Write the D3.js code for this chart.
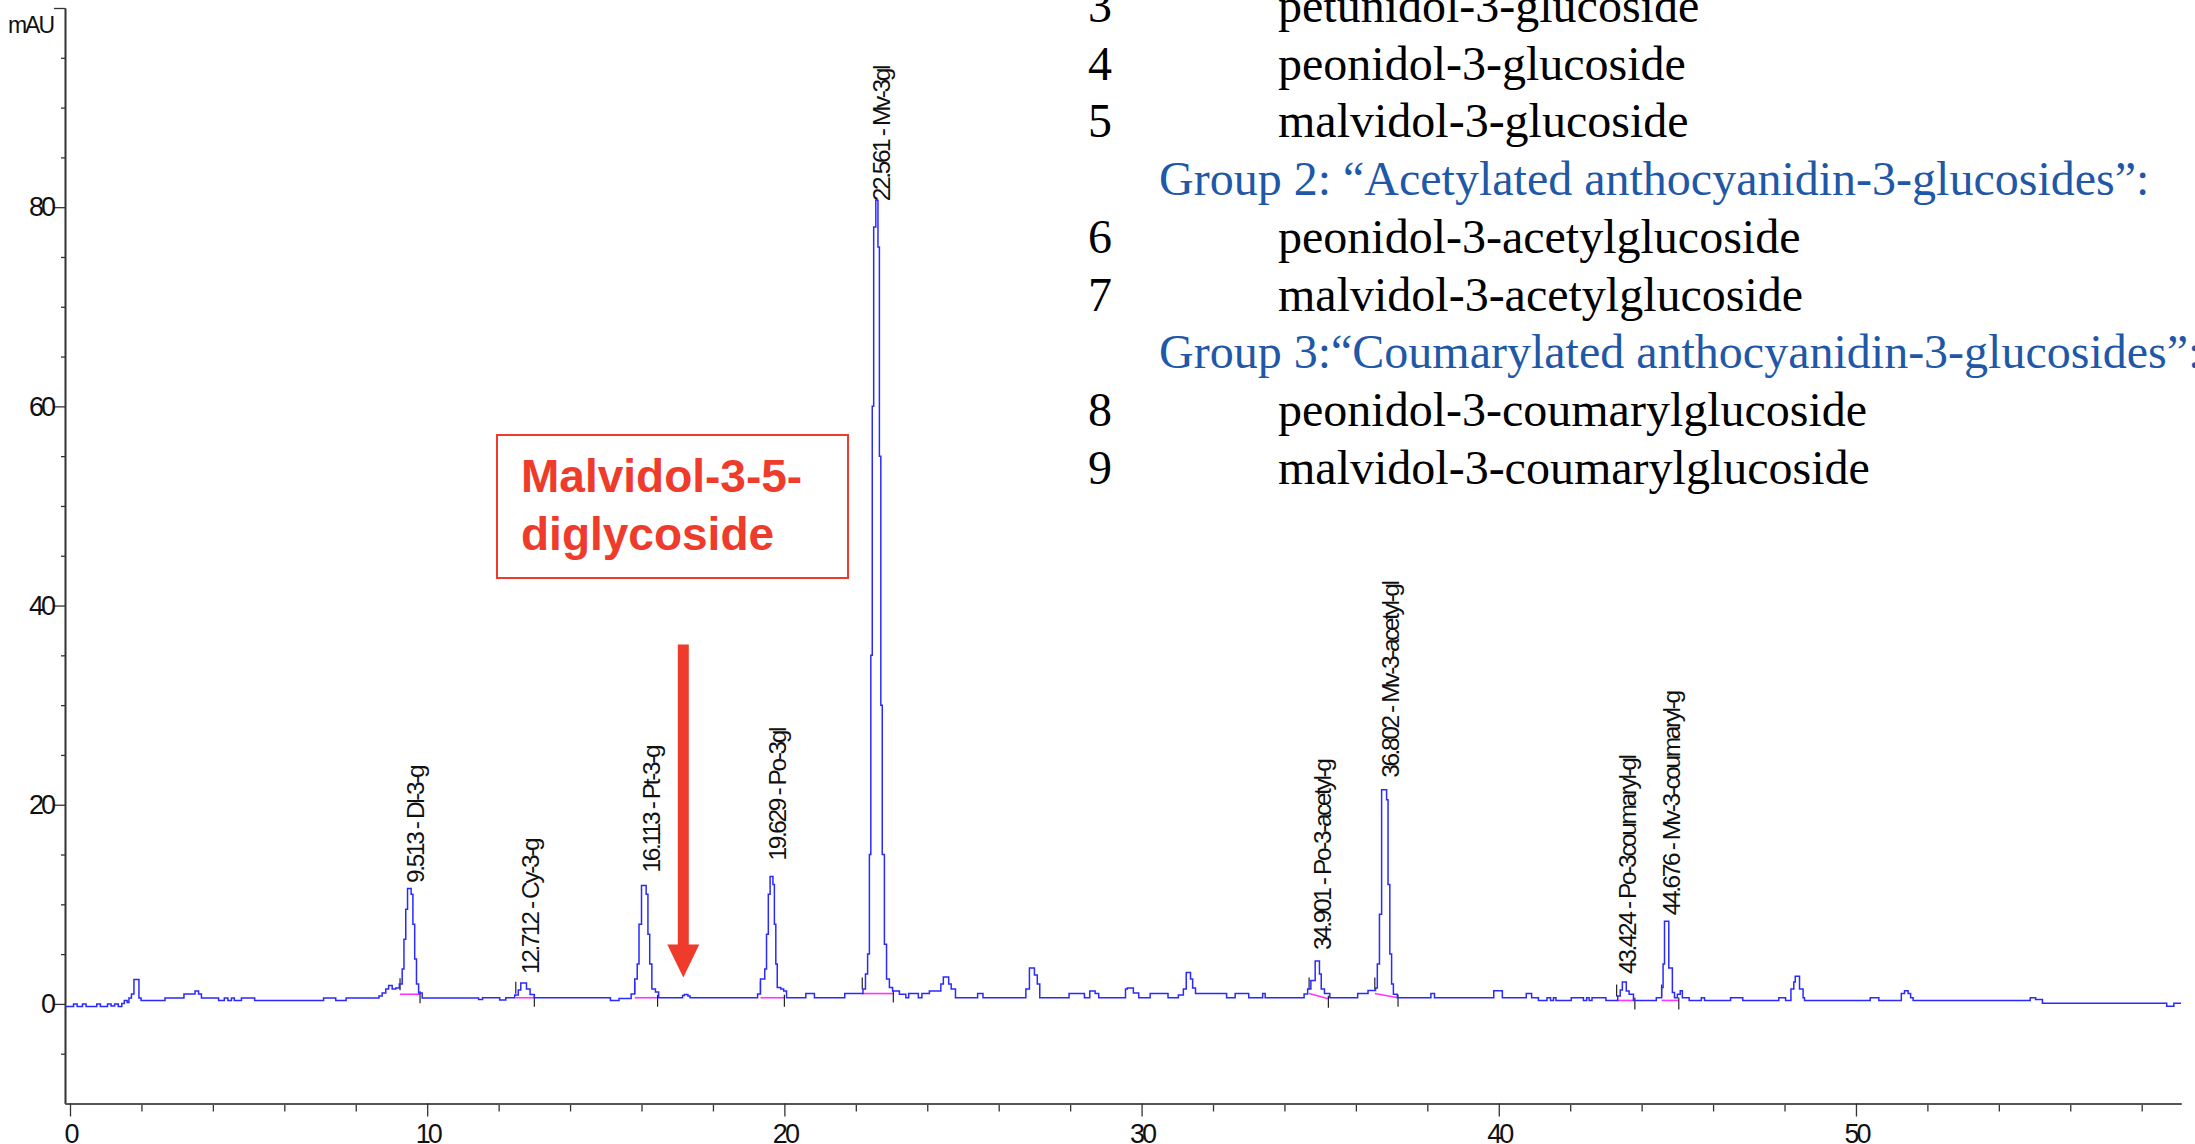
<!DOCTYPE html>
<html><head><meta charset="utf-8">
<script src="https://cdn.jsdelivr.net/npm/d3@7"></script>
<style>body{margin:0;background:#fff}</style>
</head><body><svg id="c" width="2195" height="1144"></svg>
<script>
// chromatogram trace: [retention time (min), absorbance (mAU)], sample-and-hold steps
const trace = [
[-0.14,-0.25],[0.1,0.0],[0.2,-0.25],[0.35,0.0],[0.45,-0.25],[0.75,0.0],[0.85,-0.25],[1.05,0.0],[1.15,-0.2],[1.25,0.0],[1.35,-0.25],[1.45,0.05],[1.52,0.35],[1.6,0.15],[1.65,0.6],[1.72,1.0],[1.79,2.45],[1.93,0.6],[1.99,0.35],[2.66,0.6],[3.19,1.0],[3.5,1.3],[3.6,1.0],[3.68,0.6],[4.16,0.35],[4.32,0.6],[4.42,0.35],[4.52,0.6],[4.6,0.35],[4.8,0.6],[5.17,0.35],[7.1,0.6],[7.44,0.35],[7.73,0.6],[8.65,0.8],[8.74,1.1],[8.84,1.5],[8.92,1.85],[9.02,1.5],[9.12,1.6],[9.22,2.0],
[9.3,3.5],[9.35,6.5],[9.4,9.5],[9.45,11.6],[9.55,11.0],[9.6,8.0],[9.65,4.5],[9.7,2.0],[9.76,1.1],[9.86,0.6],
[11.44,0.45],[11.55,0.62],[12.03,0.4],[12.2,0.62],[12.45,0.9],[12.55,1.4],[12.62,2.1],[12.78,1.5],[12.88,0.95],[13.0,0.62],
[15.13,0.35],[15.37,0.55],[15.71,1.0],[15.81,2.5],[15.88,4.0],[15.93,8.0],[16.0,11.9],[16.13,11.0],[16.18,7.0],[16.23,4.0],[16.29,1.5],[16.39,1.2],[16.48,0.62],
[17.15,0.85],[17.2,0.95],[17.3,0.8],[17.36,0.62],
[19.25,1.0],[19.33,2.5],[19.45,3.5],[19.5,7.0],[19.55,11.0],[19.6,12.8],[19.68,12.0],[19.72,8.0],[19.76,4.0],[19.8,1.66],[19.9,1.5],[19.98,1.3],[20.06,0.62],[20.6,1.04],[20.84,0.62],[21.69,1.04],
[22.2,1.5],[22.27,3.0],[22.33,5.0],[22.38,15],[22.42,35],[22.46,60],[22.5,78],[22.56,80.7],[22.62,76],[22.66,55],[22.7,30],[22.74,15],[22.8,6],[22.86,2.5],[22.94,1.66],[23.03,1.3],[23.22,0.97],[23.4,0.62],[23.48,1.04],[23.75,0.62],[23.85,1.04],[24.06,1.3],[24.38,2.0],[24.45,2.7],[24.6,2.0],[24.67,1.5],[24.79,0.62],[25.41,1.04],[25.56,0.62],[26.76,1.5],[26.86,3.6],[27.0,2.9],[27.08,2.0],[27.15,0.62],[27.97,1.04],[28.4,0.62],[28.55,1.3],[28.7,1.04],[28.8,0.62],
[29.55,1.5],[29.6,1.6],[29.77,1.1],[29.92,0.62],[30.24,1.04],[30.74,0.62],[31.03,0.9],[31.17,1.5],[31.25,3.15],[31.37,2.5],[31.43,1.6],[31.51,1.04],[32.38,0.62],[32.62,1.04],[33.0,0.62],[33.39,1.04],[33.46,0.62],
[34.55,1.0],[34.65,1.5],[34.74,2.35],[34.86,4.3],[34.98,3.0],[35.03,1.5],[35.12,1.04],[35.27,0.62],
[36.05,1.04],[36.34,1.35],[36.55,1.6],[36.6,4.0],[36.66,9.0],[36.72,21.5],[36.86,20.5],[36.9,12],[36.95,5.0],[37.0,2.0],[37.05,0.97],[37.16,0.62],
[38.1,1.04],[38.2,0.62],[39.86,1.31],[40.1,0.62],[40.77,1.04],[40.92,0.62],[41.11,0.35],[41.35,0.62],[41.45,0.35],[41.53,0.62],[41.6,0.35],[42.03,0.62],[42.37,0.35],[42.46,0.62],[42.53,0.35],[42.61,0.62],[43.0,0.35],
[43.33,0.8],[43.4,1.4],[43.46,2.2],[43.57,1.3],[43.65,0.97],[43.77,0.35],
[44.41,0.62],[44.56,1.66],[44.6,4.0],[44.64,8.3],[44.76,3.6],[44.86,1.14],[44.92,0.62],[45.0,0.97],[45.08,1.31],[45.14,0.62],[45.33,0.35],[45.67,0.62],[45.76,0.35],[46.49,0.62],[46.83,0.35],[47.84,0.62],[48.03,0.35],[48.18,1.49],[48.26,2.2],[48.3,2.77],[48.42,1.5],[48.52,0.62],[48.56,0.35],[50.4,0.62],[50.64,0.35],[51.27,1.04],[51.36,1.31],[51.46,1.04],[51.53,0.62],[51.6,0.35],[54.88,0.62],[55.03,0.45],[55.22,0.07],[58.7,-0.24],[58.9,0.07],[59.1,0.07]
];

// identified peaks
const peakTimes  = [9.513, 12.712, 16.113, 19.629, 22.561, 34.901, 36.802, 43.424, 44.676];
const peakLabels = ["9.513 - Dl-3-g", "12.712 - Cy-3-g", "16.113 - Pt-3-g", "19.629 - Po-3gl", "22.561 - Mv-3gl",
                    "34.901 - Po-3-acetyl-g", "36.802 - Mv-3-acetyl-gl", "43.424 - Po-3coumaryl-gl", "44.676 - Mv-3-coumaryl-g"];
const labelBase  = [11.95, 2.8, 13.0, 14.2, 80.4, 5.2, 22.5, 2.8, 8.7];
// integration baselines
const intStart    = [9.24, 12.48, 15.81, 19.33, 22.18, 34.69, 36.53, 43.30, 44.56];
const intStartVal = [0.97, 0.62, 0.62, 0.62, 1.04, 1.04, 1.04, 0.35, 0.35];
const intEnd      = [9.80, 13.00, 16.45, 20.00, 23.05, 35.23, 37.18, 43.81, 45.04];
const intEndVal   = [0.97, 0.62, 0.62, 0.62, 1.04, 0.52, 0.62, 0.35, 0.35];

// axes ticks
const yMajorTicks = [0, 20, 40, 60, 80, 100];
const yLabelTicks = [0, 20, 40, 60, 80];
const yMinorTicks = [-5, 5, 10, 15, 25, 30, 35, 45, 50, 55, 65, 70, 75, 85, 90, 95];
const xMajorTicks = [0, 10, 20, 30, 40, 50];
const xMinorTicks = [2,4,6,8,12,14,16,18,22,24,26,28,32,34,36,38,42,44,46,48,52,54,56,58];

// annotation
const calloutLines = ["Malvidol-3-5-", "diglycoside"];
const arrowTime = 17.17, arrowTop = 36.1, arrowTip = 2.65;

// legend
const legendNums  = ["3", "4", "5", "", "6", "7", "", "8", "9"];
const legendNames = ["petunidol-3-glucoside", "peonidol-3-glucoside", "malvidol-3-glucoside",
  "Group 2: \u201cAcetylated anthocyanidin-3-glucosides\u201d:",
  "peonidol-3-acetylglucoside", "malvidol-3-acetylglucoside",
  "Group 3:\u201cCoumarylated anthocyanidin-3-glucosides\u201d:",
  "peonidol-3-coumarylglucoside", "malvidol-3-coumarylglucoside"];
const legendIsGroup = [false, false, false, true, false, false, true, false, false];

const svg = d3.select("#c");
svg.append("rect").attr("width", 2195).attr("height", 1144).attr("fill", "#fff");

const x = d3.scaleLinear().domain([-0.14, 59.1]).range([65, 2181]);
const y = d3.scaleLinear().domain([-10, 100]).range([1103.5, 8]);

const sans = "'Liberation Sans', Arial, sans-serif";
const serif = "'Liberation Serif', 'Times New Roman', serif";

// legend (behind chart)
const lg = svg.append("g");
const rowY = i => 22 + i * 57.7;
legendNames.forEach((nm, i) => {
  if (legendIsGroup[i]) {
    lg.append("text").attr("x", 1159).attr("y", rowY(i)).attr("font-family", serif).attr("font-size", 48)
      .attr("fill", "#1f58a6").text(nm);
  } else {
    lg.append("text").attr("x", 1088).attr("y", rowY(i)).attr("font-family", serif).attr("font-size", 48)
      .attr("fill", "#000").text(legendNums[i]);
    lg.append("text").attr("x", 1278).attr("y", rowY(i)).attr("font-family", serif).attr("font-size", 48)
      .attr("fill", "#000").text(nm);
  }
});

// Y axis
const yMinor = d3.axisLeft(y).tickValues(yMinorTicks).tickSize(4).tickSizeOuter(0).tickFormat("");
const yMajor = d3.axisLeft(y).tickValues(yMajorTicks).tickSize(11).tickSizeOuter(0).tickPadding(1)
  .tickFormat(d => yLabelTicks.includes(d) ? d : "");
const gy1 = svg.append("g").attr("transform", "translate(65,0)").call(yMinor);
const gy2 = svg.append("g").attr("transform", "translate(65,0)").call(yMajor);
[gy1, gy2].forEach(g => {
  g.select(".domain").attr("stroke", "#333").attr("stroke-width", 1.6);
  g.selectAll(".tick line").attr("stroke", "#333").attr("stroke-width", 1.3);
});
gy2.selectAll(".tick text").attr("font-family", sans).attr("font-size", 27).attr("fill", "#111")
  .attr("letter-spacing", "-3px");

svg.append("text").attr("x", 53).attr("y", 33).attr("text-anchor", "end").attr("font-family", sans)
  .attr("font-size", 23).attr("letter-spacing", "-2px").attr("fill", "#111").text("mAU");

// X axis
const xMinor = d3.axisBottom(x).tickValues(xMinorTicks).tickSize(8).tickSizeOuter(0).tickFormat("");
const xMajor = d3.axisBottom(x).tickValues(xMajorTicks).tickSize(13).tickSizeOuter(0).tickPadding(7);
const gx1 = svg.append("g").attr("transform", `translate(0,${y(-10)})`).call(xMinor);
const gx2 = svg.append("g").attr("transform", `translate(0,${y(-10)})`).call(xMajor);
[gx1, gx2].forEach(g => {
  g.select(".domain").attr("stroke", "#555").attr("stroke-width", 2.2);
  g.selectAll(".tick line").attr("stroke", "#333").attr("stroke-width", 1.3);
});
gx2.selectAll(".tick text").attr("font-family", sans).attr("font-size", 27).attr("fill", "#111")
  .attr("letter-spacing", "-3px");

// integration baselines & markers
const ig = svg.append("g");
peakTimes.forEach((p, i) => {
  ig.append("line").attr("x1", x(intStart[i])).attr("y1", y(intStartVal[i]))
    .attr("x2", x(intEnd[i])).attr("y2", y(intEndVal[i]))
    .attr("stroke", "#ff33ff").attr("stroke-width", 1.6);
  ig.append("line").attr("x1", x(intStart[i])).attr("x2", x(intStart[i]))
    .attr("y1", y(intStartVal[i]) - 16).attr("y2", y(intStartVal[i]) - 4)
    .attr("stroke", "#222").attr("stroke-width", 1.2);
  ig.append("line").attr("x1", x(intEnd[i])).attr("x2", x(intEnd[i]))
    .attr("y1", y(intEndVal[i]) - 3).attr("y2", y(intEndVal[i]) + 9)
    .attr("stroke", "#222").attr("stroke-width", 1.2);
});

// trace
const line = d3.line().x(d => x(d[0])).y(d => y(d[1])).curve(d3.curveStepAfter);
svg.append("path").datum(trace).attr("d", line).attr("fill", "none")
  .attr("stroke", "#2a2aff").attr("stroke-width", 1.5);

// peak labels
peakTimes.forEach((p, i) => {
  const px = x(p) + 6, py = y(labelBase[i]) - 2;
  svg.append("text").attr("transform", `translate(${px},${py}) rotate(-90)`)
    .attr("dy", "0.35em").attr("font-family", sans).attr("font-size", 24.5)
    .attr("letter-spacing", "-2.4px").attr("fill", "#111").text(peakLabels[i]);
});

// callout box
const red = "#ee3b2b";
svg.append("rect").attr("x", 497).attr("y", 435).attr("width", 351).attr("height", 143)
  .attr("fill", "#fff").attr("stroke", red).attr("stroke-width", 2);
calloutLines.forEach((t, i) => {
  svg.append("text").attr("x", 521).attr("y", 492 + i * 58).attr("font-family", sans)
    .attr("font-weight", "bold").attr("font-size", 46).attr("fill", red).text(t);
});

// arrow
const ax = x(arrowTime), ayTop = y(arrowTop), ayTip = y(arrowTip);
svg.append("line").attr("x1", ax).attr("x2", ax).attr("y1", ayTop).attr("y2", ayTip - 30)
  .attr("stroke", red).attr("stroke-width", 11);
svg.append("polygon").attr("points", `${ax-16},${ayTip-33} ${ax+16},${ayTip-33} ${ax},${ayTip}`)
  .attr("fill", red);
</script>
</body></html>
